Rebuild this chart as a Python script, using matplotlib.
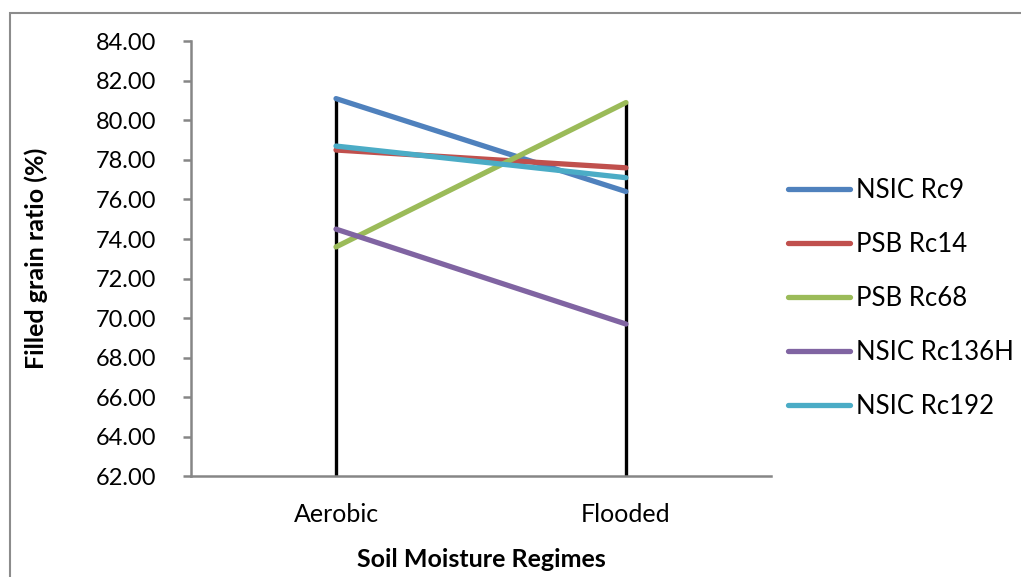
import matplotlib
matplotlib.use("Agg")
import matplotlib.pyplot as plt
from matplotlib.patches import Rectangle

plt.rcParams['font.family'] = ['Lato', 'DejaVu Sans']

regimes = ["Aerobic", "Flooded"]
varieties = ["NSIC Rc9", "PSB Rc14", "PSB Rc68", "NSIC Rc136H", "NSIC Rc192"]
rc9 = [81.1, 76.4]
rc14 = [78.5, 77.6]
rc68 = [73.6, 80.9]
rc136h = [74.5, 69.7]
rc192 = [78.7, 77.1]
series = [rc9, rc14, rc68, rc136h, rc192]
colors = ["#4F81BD", "#C0504D", "#9BBB59", "#8064A2", "#4BACC6"]
yticks = [62 + 2 * i for i in range(12)]

fig = plt.figure(figsize=(10.21, 5.77), dpi=100)
ax = fig.add_axes([0.1871, 0.1745, 0.568, 0.754])

# outer chart border
fig.patches.append(Rectangle((10 / 1021, -0.1), 1.2, 1 - 13 / 577 + 0.1,
                             transform=fig.transFigure, fill=False,
                             edgecolor="#8C8C8C", linewidth=1.5))

x = list(range(len(regimes)))

# drop lines from the highest point of each category to the axis
for i in x:
    top = max(s[i] for s in series)
    ax.vlines(i, 62, top, color="black", linewidth=2.4, zorder=2)

for name, vals, c in zip(varieties, series, colors):
    ax.plot(x, vals, color=c, linewidth=3.8, solid_capstyle="round",
            label=name, zorder=3)

ax.set_xlim(-0.5, 1.5)
ax.set_ylim(62, 84)
ax.set_yticks(yticks)
ax.set_yticklabels([f"{v:.2f}" for v in yticks])
ax.set_xticks(x)
ax.set_xticklabels(regimes)

for side in ("top", "right"):
    ax.spines[side].set_visible(False)
for side in ("left", "bottom"):
    ax.spines[side].set_color("#868686")
    ax.spines[side].set_linewidth(1.8)

ax.tick_params(axis="y", length=6, width=1.8, color="#868686",
               labelsize=17, pad=19, labelcolor="black")
ax.tick_params(axis="x", length=0, labelsize=18, pad=19, labelcolor="black")

ax.set_ylabel("Filled grain ratio (%)", fontsize=18, fontweight="bold")
ax.yaxis.set_label_coords(-0.247, 0.5)
ax.set_xlabel("Soil Moisture Regimes", fontsize=18, fontweight="bold")
ax.xaxis.set_label_coords(0.5, -0.165)

leg = ax.legend(loc="center left", bbox_to_anchor=(1.03, 0.408), frameon=False,
                fontsize=18.5, handlelength=2.4, handletextpad=0.25,
                labelspacing=1.13, borderpad=0, borderaxespad=0)
for line in leg.get_lines():
    line.set_linewidth(3.8)
    line.set_solid_capstyle("round")

fig.savefig("out.png", dpi=100)
